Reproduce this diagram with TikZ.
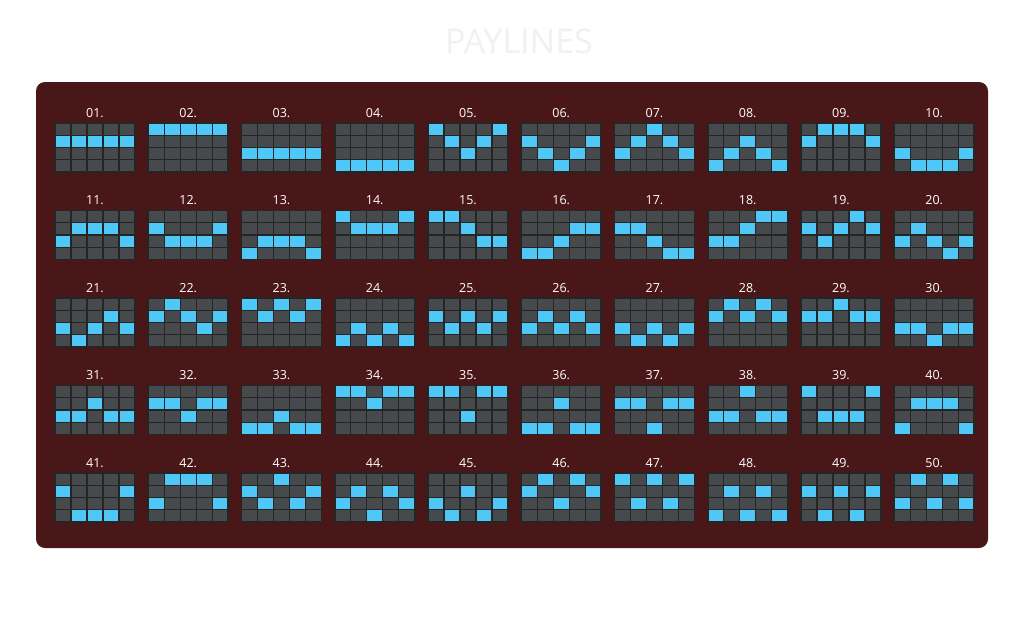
\documentclass[tikz,border=0pt]{standalone}
\usepackage{fontspec}
\setmainfont{Open Sans}
\definecolor{panel}{HTML}{4A1719}
\definecolor{cellgray}{HTML}{474A4D}
\definecolor{gridline}{HTML}{252525}
\definecolor{hit}{HTML}{4FC8F8}
\definecolor{titlecol}{HTML}{F3F1EF}
\begin{document}
\begin{tikzpicture}[x=1pt,y=-1pt,
  numlabel/.style={text=white, font=\fontsize{12.5}{12.5}\selectfont, anchor=base, inner sep=0pt},
  titletext/.style={text=titlecol, font=\fontsize{34}{34}\selectfont, anchor=base, inner sep=0pt},
  cellbg/.style={fill=cellgray},
  hitcell/.style={fill=hit},
  gridlines/.style={draw=gridline, line width=1.1pt},
  gridframe/.style={draw=gridline, line width=1.6pt}]
\useasboundingbox (0,0) rectangle (1026,638);
\fill[white] (0,0) rectangle (1026,638);
\fill[panel, rounded corners=9pt] (36,82) rectangle (988,548);
\node[titletext] (title) at (519,53) {PAYLINES};
\foreach \pa/\pb/\pc/\pd/\pe [count=\k] in {
 1/1/1/1/1, 0/0/0/0/0, 2/2/2/2/2, 3/3/3/3/3, 0/1/2/1/0,
 1/2/3/2/1, 2/1/0/1/2, 3/2/1/2/3, 1/0/0/0/1, 2/3/3/3/2,
 2/1/1/1/2, 1/2/2/2/1, 3/2/2/2/3, 0/1/1/1/0, 0/0/1/2/2,
 3/3/2/1/1, 1/1/2/3/3, 2/2/1/0/0, 1/2/1/0/1, 2/1/2/3/2,
 2/3/2/1/2, 1/0/1/2/1, 0/1/0/1/0, 3/2/3/2/3, 1/2/1/2/1,
 2/1/2/1/2, 2/3/2/3/2, 1/0/1/0/1, 1/1/0/1/1, 2/2/3/2/2,
 2/2/1/2/2, 1/1/2/1/1, 3/3/2/3/3, 0/0/1/0/0, 0/0/2/0/0,
 3/3/1/3/3, 1/1/3/1/1, 2/2/0/2/2, 0/2/2/2/0, 3/1/1/1/3,
 1/3/3/3/1, 2/0/0/0/2, 1/2/0/2/1, 2/1/3/1/2, 2/3/1/3/2,
 1/0/2/0/1, 0/2/0/2/0, 3/1/3/1/3, 1/3/1/3/1, 2/0/2/0/2} {
  \pgfmathtruncatemacro{\cx}{mod(\k-1,10)}
  \pgfmathtruncatemacro{\ry}{div(\k-1,10)}
  \pgfmathsetmacro{\xo}{55+93.25*\cx}
  \pgfmathsetmacro{\yo}{123+87.5*\ry}
  \begin{scope}[shift={(\xo,\yo)}]
    \fill[cellbg] (0,0) rectangle (80,49);
    \foreach \rr [count=\cc from 0] in {\pa,\pb,\pc,\pd,\pe}
      \fill[hitcell] (\cc*16,\rr*12.25) rectangle ++(16,12.25);
    \foreach \gx in {16,32,48,64}
      \draw[gridlines] (\gx,0) -- (\gx,49);
    \foreach \gy in {12.25,24.5,36.75}
      \draw[gridlines] (0,\gy) -- (80,\gy);
    \draw[gridframe] (0,0) rectangle (80,49);
  \end{scope}
  \node[numlabel] (lab\k) at (\xo+40,\yo-6) {\ifnum\k<10 0\fi\k.};
}
\end{tikzpicture}
\end{document}
